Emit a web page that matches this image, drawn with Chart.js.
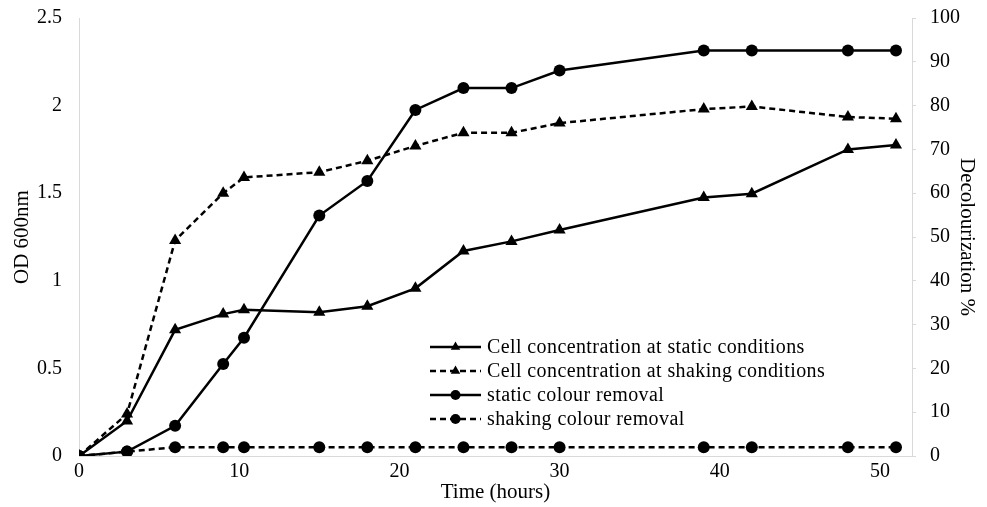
<!DOCTYPE html>
<html>
<head>
<meta charset="utf-8">
<script src="https://cdn.jsdelivr.net/npm/chart.js@4.4.1/dist/chart.umd.min.js"></script>
<style>
  html, body { margin: 0; padding: 0; background: #fff; }
  #wrap { width: 987px; height: 507px; }
</style>
</head>
<body>
<div id="wrap"><canvas id="chart" width="987" height="507"></canvas></div>
<script>
// time points (hours)
const hours = [0, 3, 6, 9, 10.3, 15, 18, 21, 24, 27, 30, 39, 42, 48, 51];

// OD 600nm (left axis)
const cellStatic = [0, 0.20, 0.72, 0.81, 0.835, 0.82, 0.855, 0.957, 1.17, 1.225, 1.29, 1.475, 1.497, 1.75, 1.775];
const cellShaking = [0, 0.24, 1.23, 1.50, 1.59, 1.62, 1.685, 1.77, 1.845, 1.845, 1.90, 1.98, 1.995, 1.935, 1.925];

// Decolourization % (right axis)
const colourStatic = [0, 1, 6.9, 21, 27, 54.9, 62.8, 79, 84, 84, 88, 92.6, 92.6, 92.6, 92.6];
const colourShaking = [0, 1, 2, 2, 2, 2, 2, 2, 2, 2, 2, 2, 2, 2, 2];

const leftTicks = [0, 0.5, 1, 1.5, 2, 2.5];
const rightTicks = [0, 10, 20, 30, 40, 50, 60, 70, 80, 90, 100];
const xTicks = [0, 10, 20, 30, 40, 50];

const serif = 'Liberation Serif';
const axisGrey = '#d9d9d9';

function pairs(ys) {
    return hours.map(function(h, i) { return { x: h, y: ys[i] }; });
}

function series(label, ys, axis, marker, dashed) {
    return {
        label: label,
        data: pairs(ys),
        yAxisID: axis,
        borderColor: '#000',
        backgroundColor: '#000',
        borderWidth: 2.5,
        borderDash: dashed ? [6, 4] : [],
        pointStyle: marker,
        pointRadius: marker === 'triangle' ? 7 : 6,
        pointBorderWidth: 0,
        tension: 0,
        fill: false
    };
}

// legend drawn inside the plot area, like the original
const insideLegend = {
    id: 'insideLegend',
    afterDraw(chart) {
        const ctx = chart.ctx;
        const x0 = 430, x1 = 481, tx = 487;
        const rows = [347, 371, 395, 419];
        ctx.save();
        chart.data.datasets.forEach(function(ds, i) {
            const y = rows[i];
            ctx.strokeStyle = '#000';
            ctx.lineWidth = 2.5;
            ctx.setLineDash(ds.borderDash);
            ctx.beginPath();
            ctx.moveTo(x0, y);
            ctx.lineTo(x1, y);
            ctx.stroke();
            ctx.setLineDash([]);
            Chart.helpers.drawPoint(ctx, {
                pointStyle: ds.pointStyle,
                radius: ds.pointStyle === 'triangle' ? 5.5 : 5,
                borderWidth: 0
            }, (x0 + x1) / 2, y);
            ctx.fillStyle = '#000';
            ctx.font = '20px "' + serif + '"';
            ctx.letterSpacing = '0.4px';
            ctx.textBaseline = 'middle';
            ctx.textAlign = 'left';
            ctx.fillText(ds.label, tx, y + 1);
        });
        ctx.restore();
    }
};

function fixedTicks(values) {
    return function(scale) {
        scale.ticks = values.map(function(v) { return { value: v }; });
    };
}

// fixed axis box, and no extra room reserved for the end labels
function fixedWidth(w) {
    return function(scale) {
        scale.width = w;
        scale.paddingTop = 0;
        scale.paddingBottom = 0;
    };
}

const plainLabel = function(value) { return String(value); };

const ctx = document.getElementById('chart').getContext('2d');
const chart = new Chart(ctx, {
    type: 'line',
    data: {
        datasets: [
            series('Cell concentration at static conditions', cellStatic, 'y', 'triangle', false),
            series('Cell concentration at shaking conditions', cellShaking, 'y', 'triangle', true),
            series('static colour removal', colourStatic, 'y1', 'circle', false),
            series('shaking colour removal', colourShaking, 'y1', 'circle', true)
        ]
    },
    options: {
        responsive: false,
        animation: false,
        layout: { padding: { top: 18, right: 0, bottom: 0, left: 0 } },
        plugins: {
            legend: { display: false },
            tooltip: { enabled: false }
        },
        scales: {
            x: {
                type: 'linear',
                min: 0,
                max: 52,
                afterBuildTicks: fixedTicks(xTicks),
                afterFit: function(scale) {
                    scale.height = 51;
                    scale.paddingLeft = 0;
                    scale.paddingRight = 0;
                },
                grid: { drawOnChartArea: false, drawTicks: false },
                border: { color: axisGrey, width: 1 },
                ticks: { color: '#000', padding: 4, callback: plainLabel, font: { family: serif, size: 20 } },
                title: {
                    display: true,
                    text: 'Time (hours)',
                    color: '#000',
                    padding: { top: 0, bottom: 2 },
                    font: { family: serif, size: 21 }
                }
            },
            y: {
                position: 'left',
                min: 0,
                max: 2.5,
                afterBuildTicks: fixedTicks(leftTicks),
                afterFit: fixedWidth(79),
                grid: { drawOnChartArea: false, drawTicks: false },
                border: { color: axisGrey, width: 1 },
                ticks: { color: '#000', padding: 17, callback: plainLabel, font: { family: serif, size: 20 } },
                title: {
                    display: true,
                    text: 'OD 600nm',
                    color: '#000',
                    padding: { top: 10, bottom: 0 },
                    font: { family: serif, size: 21 }
                }
            },
            y1: {
                position: 'right',
                min: 0,
                max: 100,
                afterBuildTicks: fixedTicks(rightTicks),
                afterFit: fixedWidth(75),
                grid: { drawOnChartArea: false, drawTicks: true, tickLength: 4, color: axisGrey },
                border: { color: axisGrey, width: 1 },
                ticks: { color: '#000', padding: 14, callback: plainLabel, font: { family: serif, size: 20 } },
                title: {
                    display: true,
                    text: 'Decolourization %',
                    color: '#000',
                    padding: { top: 8, bottom: 0 },
                    font: { family: serif, size: 21 }
                }
            }
        }
    },
    plugins: [insideLegend]
});
</script>
</body>
</html>
